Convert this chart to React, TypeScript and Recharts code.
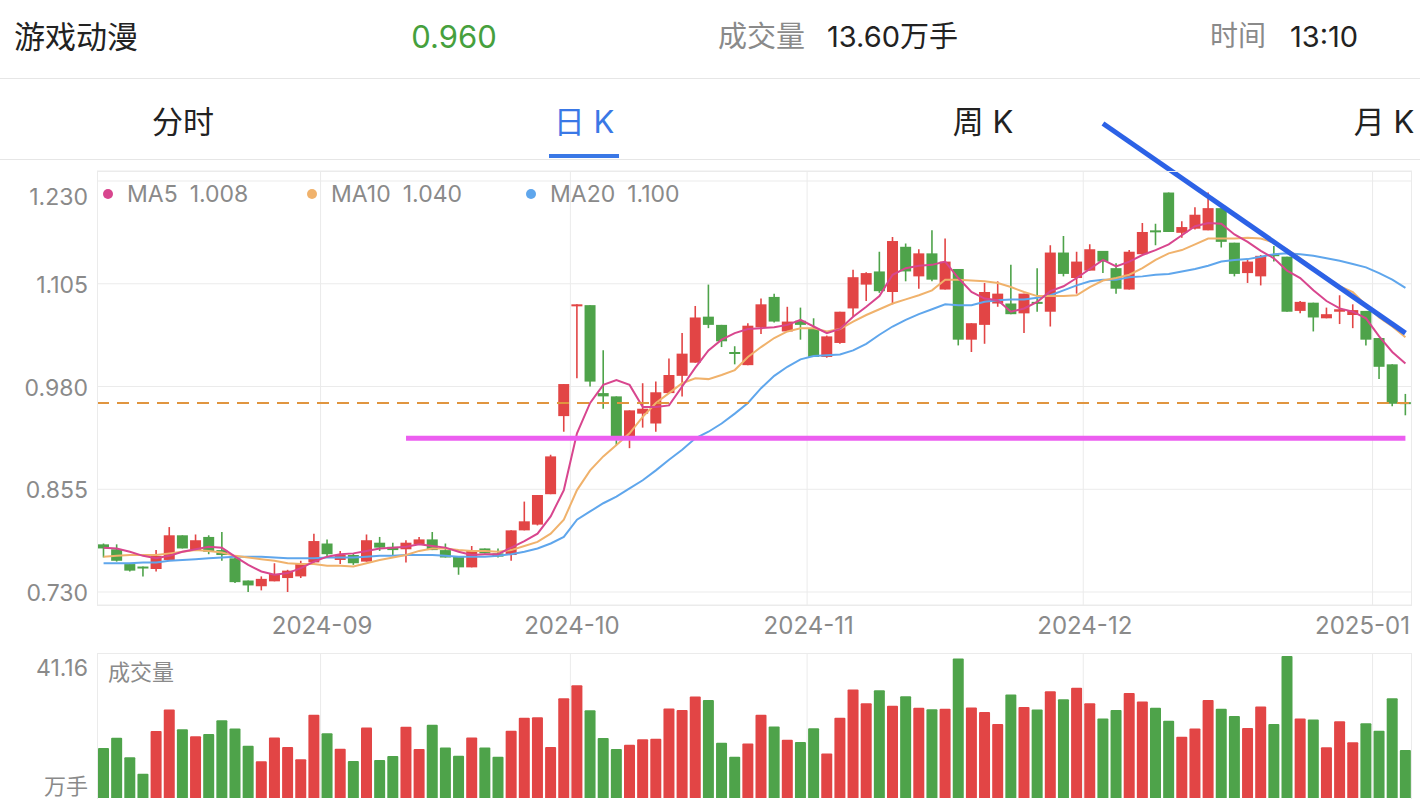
// App.tsx
// 游戏动漫 daily K-line card: candles + MA5/10/20, volume pane underneath.

import React from "react";
import {
  ComposedChart, Bar, Line, XAxis, YAxis,
  CartesianGrid, ReferenceLine, Cell,
} from "recharts";

// ─── Data ────────────────────────────────────────────────────────────────────

const OPEN = [
  0.788, 0.782, 0.764, 0.761, 0.758, 0.769, 0.799, 0.781, 0.797, 0.781,
  0.771, 0.744, 0.737, 0.743, 0.747, 0.749, 0.766, 0.789, 0.769, 0.775,
  0.767, 0.790, 0.785, 0.782, 0.788, 0.794, 0.781, 0.773, 0.760, 0.783,
  0.777, 0.775, 0.805, 0.812, 0.849, 0.944, 1.079, 1.079, 0.972, 0.968,
  0.919, 0.947, 0.935, 0.972, 0.993, 1.009, 1.065, 1.055, 1.022, 1.006,
  1.052, 1.089, 1.047, 1.060, 1.051, 1.016, 1.033, 1.075, 1.104, 1.120,
  1.095, 1.150, 1.114, 1.142, 1.098, 1.123, 1.037, 1.055, 1.081, 1.081,
  1.069, 1.083, 1.071, 1.143, 1.112, 1.121, 1.145, 1.124, 1.098, 1.141,
  1.170, 1.216, 1.167, 1.172, 1.170, 1.197, 1.155, 1.118, 1.114, 1.141,
  1.138, 1.072, 1.082, 1.063, 1.071, 1.067, 1.072, 1.039, 1.007, 0.961,
];
const HIGH = [
  0.789, 0.788, 0.765, 0.761, 0.781, 0.809, 0.799, 0.800, 0.799, 0.803,
  0.772, 0.744, 0.749, 0.765, 0.757, 0.768, 0.801, 0.794, 0.780, 0.777,
  0.800, 0.797, 0.790, 0.793, 0.797, 0.803, 0.789, 0.773, 0.786, 0.783,
  0.783, 0.805, 0.840, 0.848, 0.897, 0.983, 1.080, 1.079, 1.024, 0.968,
  0.951, 0.984, 0.986, 1.014, 1.045, 1.078, 1.104, 1.055, 1.029, 1.057,
  1.087, 1.093, 1.077, 1.076, 1.063, 1.042, 1.071, 1.122, 1.119, 1.144,
  1.162, 1.154, 1.147, 1.170, 1.160, 1.123, 1.057, 1.106, 1.108, 1.128,
  1.093, 1.124, 1.152, 1.163, 1.144, 1.153, 1.145, 1.130, 1.146, 1.179,
  1.178, 1.216, 1.181, 1.198, 1.216, 1.197, 1.155, 1.135, 1.140, 1.151,
  1.138, 1.084, 1.082, 1.076, 1.091, 1.080, 1.072, 1.039, 1.007, 0.971,
];
const LOW = [
  0.772, 0.767, 0.755, 0.749, 0.755, 0.769, 0.783, 0.781, 0.776, 0.768,
  0.741, 0.730, 0.732, 0.743, 0.730, 0.747, 0.766, 0.773, 0.764, 0.763,
  0.767, 0.780, 0.775, 0.766, 0.788, 0.781, 0.772, 0.751, 0.760, 0.777,
  0.772, 0.768, 0.805, 0.811, 0.849, 0.925, 0.990, 0.980, 0.953, 0.909,
  0.905, 0.930, 0.925, 0.972, 0.968, 1.009, 1.051, 1.028, 1.007, 1.006,
  1.044, 1.058, 1.047, 1.037, 1.016, 1.015, 1.032, 1.065, 1.084, 1.094,
  1.080, 1.108, 1.099, 1.108, 1.098, 1.030, 1.022, 1.032, 1.077, 1.068,
  1.045, 1.071, 1.053, 1.114, 1.093, 1.121, 1.118, 1.093, 1.098, 1.141,
  1.152, 1.168, 1.161, 1.171, 1.170, 1.149, 1.114, 1.106, 1.103, 1.132,
  1.071, 1.069, 1.047, 1.063, 1.056, 1.051, 1.030, 0.989, 0.956, 0.945,
];
const CLOSE = [
  0.783, 0.768, 0.756, 0.759, 0.774, 0.799, 0.783, 0.793, 0.779, 0.775,
  0.742, 0.738, 0.746, 0.752, 0.756, 0.765, 0.792, 0.776, 0.775, 0.765,
  0.793, 0.784, 0.781, 0.790, 0.794, 0.781, 0.772, 0.760, 0.780, 0.777,
  0.773, 0.805, 0.816, 0.848, 0.895, 0.983, 1.080, 0.986, 0.968, 0.919,
  0.951, 0.953, 0.973, 0.994, 1.020, 1.064, 1.055, 1.035, 1.020, 1.054,
  1.080, 1.059, 1.059, 1.055, 1.016, 1.041, 1.071, 1.113, 1.118, 1.096,
  1.157, 1.120, 1.142, 1.110, 1.132, 1.037, 1.057, 1.095, 1.093, 1.068,
  1.093, 1.081, 1.143, 1.117, 1.132, 1.147, 1.132, 1.099, 1.144, 1.168,
  1.168, 1.168, 1.174, 1.189, 1.197, 1.156, 1.117, 1.132, 1.139, 1.139,
  1.071, 1.083, 1.064, 1.068, 1.074, 1.073, 1.037, 1.004, 0.959, 0.960,
];
const MA5 = [
  0.784, 0.783, 0.779, 0.774, 0.771, 0.774, 0.779, 0.782, 0.785, 0.784,
  0.773, 0.763, 0.755, 0.751, 0.753, 0.759, 0.767, 0.773, 0.776, 0.777,
  0.780, 0.783, 0.784, 0.785, 0.788, 0.786, 0.784, 0.779, 0.775, 0.776,
  0.776, 0.784, 0.792, 0.801, 0.822, 0.854, 0.923, 0.960, 0.982, 0.988,
  0.982, 0.955, 0.955, 0.957, 0.980, 1.003, 1.024, 1.037, 1.045, 1.050,
  1.051, 1.052, 1.055, 1.061, 1.053, 1.045, 1.050, 1.065, 1.077, 1.090,
  1.116, 1.124, 1.127, 1.128, 1.132, 1.112, 1.095, 1.087, 1.085, 1.071,
  1.075, 1.083, 1.096, 1.102, 1.112, 1.123, 1.134, 1.126, 1.132, 1.140,
  1.146, 1.153, 1.164, 1.175, 1.179, 1.178, 1.165, 1.156, 1.145, 1.136,
  1.121, 1.112, 1.097, 1.084, 1.075, 1.071, 1.063, 1.041, 1.022, 1.008,
];
const MA10 = [
  0.773, 0.774, 0.775, 0.775, 0.775, 0.777, 0.779, 0.781, 0.780, 0.778,
  0.774, 0.772, 0.770, 0.768, 0.765, 0.764, 0.764, 0.762, 0.762, 0.761,
  0.765, 0.769, 0.772, 0.775, 0.780, 0.783, 0.783, 0.781, 0.780, 0.780,
  0.779, 0.781, 0.786, 0.791, 0.801, 0.818, 0.854, 0.878, 0.895, 0.909,
  0.923, 0.943, 0.960, 0.972, 0.984, 0.990, 0.989, 0.994, 1.000, 1.016,
  1.028, 1.039, 1.047, 1.051, 1.051, 1.047, 1.050, 1.059, 1.067, 1.074,
  1.081, 1.086, 1.091, 1.097, 1.110, 1.110, 1.109, 1.108, 1.106, 1.101,
  1.095, 1.090, 1.090, 1.090, 1.091, 1.101, 1.109, 1.112, 1.116, 1.124,
  1.134, 1.142, 1.146, 1.153, 1.160, 1.160, 1.160, 1.161, 1.160, 1.155,
  1.147, 1.136, 1.124, 1.113, 1.102, 1.095, 1.079, 1.064, 1.053, 1.040,
];
const MA20 = [
  0.765, 0.765, 0.765, 0.766, 0.766, 0.768, 0.769, 0.770, 0.771, 0.772,
  0.773, 0.773, 0.773, 0.772, 0.771, 0.771, 0.771, 0.772, 0.772, 0.772,
  0.773, 0.774, 0.774, 0.775, 0.775, 0.775, 0.774, 0.773, 0.773, 0.773,
  0.774, 0.776, 0.779, 0.783, 0.789, 0.797, 0.818, 0.828, 0.838, 0.846,
  0.856, 0.866, 0.878, 0.891, 0.903, 0.917, 0.925, 0.935, 0.947, 0.960,
  0.978, 0.993, 1.004, 1.013, 1.017, 1.018, 1.019, 1.024, 1.032, 1.043,
  1.053, 1.061, 1.068, 1.074, 1.080, 1.079, 1.079, 1.083, 1.085, 1.086,
  1.086, 1.088, 1.091, 1.097, 1.103, 1.108, 1.110, 1.110, 1.113, 1.114,
  1.116, 1.117, 1.120, 1.123, 1.127, 1.132, 1.134, 1.135, 1.138, 1.141,
  1.142, 1.141, 1.139, 1.136, 1.133, 1.129, 1.125, 1.118, 1.110, 1.100,
];
// 成交量, 万手
const VOLUME = [
  14.2, 17.1, 11.6, 6.9, 19.0, 25.1, 19.5, 17.5, 18.2, 22.1,
  19.7, 14.8, 10.4, 17.2, 14.5, 11.0, 23.6, 18.4, 14.0, 10.5,
  20.0, 10.8, 11.9, 20.2, 13.9, 20.8, 14.3, 12.0, 17.2, 14.3,
  11.7, 19.1, 22.8, 22.9, 14.5, 28.3, 32.0, 24.9, 17.0, 13.9,
  15.1, 16.7, 16.8, 25.4, 25.0, 28.8, 27.8, 15.7, 11.7, 15.5,
  23.6, 20.3, 16.5, 15.9, 19.8, 12.6, 22.8, 30.8, 26.9, 30.6,
  26.2, 28.9, 25.6, 25.2, 25.3, 39.6, 25.7, 24.4, 21.0, 29.4,
  25.8, 25.1, 30.3, 28.0, 31.3, 26.9, 22.6, 25.0, 29.8, 27.4,
  25.6, 21.9, 17.4, 19.7, 27.8, 25.3, 23.3, 19.9, 26.0, 21.0,
  40.3, 22.6, 22.3, 14.4, 21.8, 15.8, 21.2, 19.1, 28.3, 13.6,
];

// first trading day of each month (candle index) and its label
const MONTH_TICKS = [17, 36, 54, 75, 97];
const MONTH_LABELS = ["2024-09", "2024-10", "2024-11", "2024-12", "2025-01"];
const PRICE_TICKS = [0.73, 0.855, 0.98, 1.105, 1.23];
const VOL_MAX = 41.16;
const VOL_UNIT = "万手";

const LAST_PRICE = 0.96;
const LAST_VOLUME = "13.60";
const LAST_TIME = "13:10";
const LEGEND = [
  { key: "ma5", name: "MA5", value: "1.008" },
  { key: "ma10", name: "MA10", value: "1.040" },
  { key: "ma20", name: "MA20", value: "1.100" },
];
// hand-drawn annotations: support level and falling trend line
const SUPPORT_PRICE = 0.917;
const SUPPORT_FROM = 23;
const TREND = [{ idx: 76, price: 1.3 }, { idx: 99, price: 1.045 }];

// ─── Styling ─────────────────────────────────────────────────────────────────

const RED = "#e24545";
const GREEN = "#4ea34a";
const MA_COLORS: Record<string, string> = { ma5: "#d8468e", ma10: "#f0b26c", ma20: "#5fa6ec" };
const GRID = "#ebebeb";
const MUTED = "#8a8a8a";
const FONT = 'Inter, "Noto Sans CJK SC", "Noto Sans", sans-serif';

const rows = CLOSE.map((c, i) => ({
  idx: i,
  range: [LOW[i], HIGH[i]],
  open: OPEN[i],
  close: c,
  ma5: MA5[i],
  ma10: MA10[i],
  ma20: MA20[i],
  vol: VOLUME[i],
}));

const isUp = (r: { open: number; close: number }) => r.close >= r.open;

// ─── Shapes / ticks ──────────────────────────────────────────────────────────

function Candle(props: any) {
  const { x, y, width, height, payload } = props;
  if (x == null || y == null || !payload) return <g />;
  const [lo, hi] = payload.range as number[];
  const top = Math.min(y, y + height);
  const h = Math.abs(height);
  const k = hi > lo ? h / (hi - lo) : 0;
  const bodyTop = top + (hi - Math.max(payload.open, payload.close)) * k;
  const bodyH = Math.max(Math.abs(payload.open - payload.close) * k, 2);
  const color = isUp(payload) ? RED : GREEN;
  const cx = x + width / 2;
  return (
    <g>
      <line x1={cx} x2={cx} y1={top} y2={top + h} stroke={color} strokeWidth={1.6} />
      <rect x={x} y={bodyTop} width={width} height={bodyH} fill={color} />
    </g>
  );
}

function MonthTick(props: any) {
  const { x, payload } = props;
  const m = MONTH_TICKS.indexOf(payload?.value);
  if (m < 0) return <g />;
  const last = m === MONTH_TICKS.length - 1;
  return (
    <text
      x={last ? 1410 : x - 5}
      y={465}
      dominantBaseline="central"
      textAnchor={last ? "end" : "middle"}
      fontSize={24}
      fill={MUTED}
      fontFamily={FONT}
    >
      {MONTH_LABELS[m]}
    </text>
  );
}

function PriceTick(props: any) {
  const { y, payload } = props;
  const top = payload.value === PRICE_TICKS[PRICE_TICKS.length - 1];
  return (
    <text x={88} y={y + (top ? 16 : 1)} dominantBaseline="central" textAnchor="end" fontSize={23} fill={MUTED} fontFamily={FONT}>
      {Number(payload.value).toFixed(3)}
    </text>
  );
}

function VolTick(props: any) {
  const { y, payload } = props;
  if (payload.value !== VOL_MAX) return <g />;
  return (
    <text x={88} y={y + 15} dominantBaseline="central" textAnchor="end" fontSize={23} fill={MUTED} fontFamily={FONT}>
      {VOL_MAX.toFixed(2)}
    </text>
  );
}

function Txt({ x, y, size, color, anchor = "start", children }: {
  x: number; y: number; size: number; color: string; anchor?: "start" | "middle" | "end"; children: React.ReactNode;
}) {
  const tx = anchor === "middle" ? "-50%" : anchor === "end" ? "-100%" : "0";
  return (
    <div style={{
      position: "absolute", left: x, top: y, transform: `translate(${tx}, -50%)`,
      fontSize: size, color, lineHeight: 1, whiteSpace: "nowrap",
    }}>
      {children}
    </div>
  );
}

// ─── App ─────────────────────────────────────────────────────────────────────

export default function App() {
  return (
    <div style={{ position: "absolute", left: 0, top: 0, width: 1420, height: 806, background: "#fff", overflow: "hidden", fontFamily: FONT }}>
      <style>{"body{margin:0} .kline svg.recharts-surface{overflow:visible}"}</style>

      {/* header */}
      <Txt x={14} y={36} size={31} color="#222">游戏动漫</Txt>
      <Txt x={454} y={36} size={31} color="#46a03d" anchor="middle">{LAST_PRICE.toFixed(3)}</Txt>
      <Txt x={718} y={36} size={29} color={MUTED}>成交量</Txt>
      <Txt x={827} y={36} size={29} color="#222">{LAST_VOLUME}万手</Txt>
      <Txt x={1210} y={36} size={28} color={MUTED}>时间</Txt>
      <Txt x={1290} y={36} size={29} color="#222">{LAST_TIME}</Txt>
      <div style={{ position: "absolute", left: 0, top: 78, width: 1420, height: 1, background: "#e6e6e6" }} />

      {/* period tabs */}
      <Txt x={183} y={121} size={31} color="#222" anchor="middle">分时</Txt>
      <Txt x={584} y={121} size={31} color="#3a78e6" anchor="middle">日 K</Txt>
      <Txt x={983} y={121} size={31} color="#222" anchor="middle">周 K</Txt>
      <Txt x={1384} y={121} size={31} color="#222" anchor="middle">月 K</Txt>
      <div style={{ position: "absolute", left: 549, top: 154, width: 70, height: 4, background: "#3a78e6" }} />
      <div style={{ position: "absolute", left: 0, top: 159, width: 1420, height: 1, background: "#e6e6e6" }} />

      {/* candles */}
      <div className="kline" style={{ position: "absolute", left: 0, top: 160 }}>
        <ComposedChart width={1420} height={490} data={rows} margin={{ top: 11, right: 8, bottom: 0, left: 0 }}>
          <CartesianGrid vertical={false} stroke={GRID} />
          <XAxis dataKey="idx" type="category" interval={0} height={45} axisLine={false} tickLine={false} tick={(p: any) => <MonthTick {...p} />} />
          <YAxis type="number" domain={[0.7142, 1.2422]} ticks={PRICE_TICKS} interval={0} allowDataOverflow width={97} axisLine={false} tickLine={false} tick={(p: any) => <PriceTick {...p} />} />
          {MONTH_TICKS.map((m) => (
            <ReferenceLine key={m} x={m} position="start" stroke={GRID} strokeWidth={1} />
          ))}
          <Bar dataKey="range" barSize={11} shape={(p: any) => <Candle {...p} />} isAnimationActive={false} />
          <Line dataKey="ma20" stroke={MA_COLORS.ma20} strokeWidth={2} dot={false} activeDot={false} isAnimationActive={false} />
          <Line dataKey="ma10" stroke={MA_COLORS.ma10} strokeWidth={2} dot={false} activeDot={false} isAnimationActive={false} />
          <Line dataKey="ma5" stroke={MA_COLORS.ma5} strokeWidth={2} dot={false} activeDot={false} isAnimationActive={false} />
          <ReferenceLine y={LAST_PRICE} stroke="#e0953f" strokeWidth={2} strokeDasharray="12 8" />
          <ReferenceLine
            segment={[{ x: SUPPORT_FROM, y: SUPPORT_PRICE }, { x: rows.length - 1, y: SUPPORT_PRICE }]}
            stroke="#ec5ef0" strokeWidth={5} ifOverflow="visible"
          />
          <ReferenceLine
            segment={[{ x: TREND[0].idx, y: TREND[0].price }, { x: TREND[1].idx, y: TREND[1].price }]}
            stroke="#2c62e6" strokeWidth={5} ifOverflow="visible"
          />
        </ComposedChart>
      </div>

      {/* volume */}
      <div style={{ position: "absolute", left: 0, top: 650 }}>
        <ComposedChart width={1420} height={156} data={rows} margin={{ top: 3, right: 8, bottom: 8, left: 0 }}>
          <XAxis dataKey="idx" type="category" hide />
          <YAxis type="number" domain={[0, VOL_MAX]} ticks={[0, VOL_MAX]} interval={0} allowDataOverflow width={97} axisLine={false} tickLine={false} tick={(p: any) => <VolTick {...p} />} />
          {MONTH_TICKS.map((m) => (
            <ReferenceLine key={m} x={m} position="start" stroke={GRID} strokeWidth={1} />
          ))}
          <Bar dataKey="vol" barSize={11} radius={[1, 1, 0, 0]} isAnimationActive={false}>
            {rows.map((r) => <Cell key={r.idx} fill={isUp(r) ? RED : GREEN} />)}
          </Bar>
        </ComposedChart>
      </div>

      {/* pane borders */}
      <div style={{ position: "absolute", left: 97, top: 171, width: 1315, height: 435, border: `1px solid ${GRID}`, boxSizing: "border-box" }} />
      <div style={{ position: "absolute", left: 97, top: 653, width: 1315, height: 146, borderTop: `1px solid ${GRID}`, borderLeft: `1px solid ${GRID}`, borderRight: `1px solid ${GRID}`, boxSizing: "border-box" }} />

      {/* MA legend */}
      {LEGEND.map((l, i) => {
        const dotX = [108, 312, 531][i];
        return (
          <React.Fragment key={l.key}>
            <div style={{ position: "absolute", left: dotX - 5, top: 189, width: 10, height: 10, borderRadius: 5, background: MA_COLORS[l.key] }} />
            <Txt x={dotX + 19} y={194} size={23} color={MUTED}>
              {l.name}<span style={{ marginLeft: 12 }}>{l.value}</span>
            </Txt>
          </React.Fragment>
        );
      })}
      <Txt x={108} y={672} size={22} color={MUTED}>成交量</Txt>
      <Txt x={88} y={786} size={22} color={MUTED} anchor="end">{VOL_UNIT}</Txt>
    </div>
  );
}
